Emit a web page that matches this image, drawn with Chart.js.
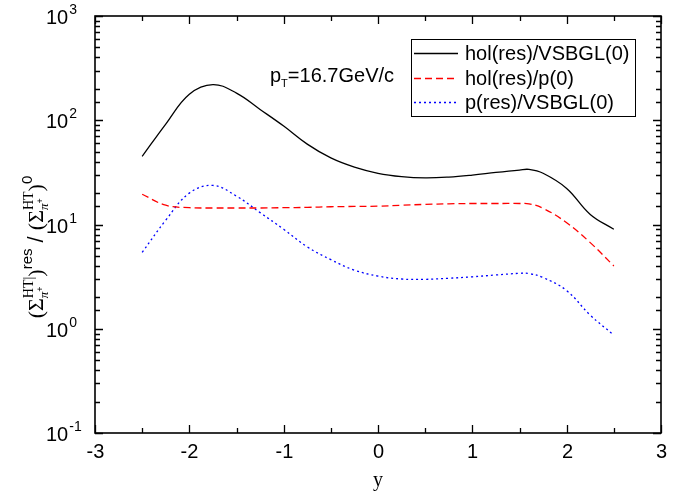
<!DOCTYPE html>
<html>
<head>
<meta charset="utf-8">
<script src="https://cdn.jsdelivr.net/npm/chart.js@4.4.1/dist/chart.umd.min.js"></script>
<style>
    html, body { margin: 0; padding: 0; background: #fff; }
    #wrap { width: 686px; height: 492px; }
</style>
</head>
<body>
<div id="wrap"><canvas id="chart"></canvas></div>
<script>
// rapidity y and the three ratios
const rapidity = [-2.5, -2.25, -2.0, -1.75, -1.5, -1.25, -1.0, -0.75, -0.5, -0.25, 0, 0.25, 0.5, 0.75, 1.0, 1.25, 1.5, 1.6, 1.75, 2.0, 2.25, 2.5];
const holVsbgl = [45, 92, 178, 220, 182, 127, 88, 59, 43.5, 35.5, 31, 28.8, 28, 28.5, 29.8, 31.6, 33.3, 33.8, 31, 22.2, 12.5, 9];
const holP = [19.5, 15.3, 14.5, 14.4, 14.4, 14.4, 14.5, 14.6, 14.8, 14.9, 15.0, 15.3, 15.6, 15.8, 15.9, 15.9, 15.9, 15.8, 14.3, 10.4, 6.7, 4.0];
const pVsbgl = [5.4, 11.0, 20.0, 23.7, 18.7, 13.0, 9.0, 6.1, 4.6, 3.65, 3.2, 3.0, 2.98, 3.05, 3.15, 3.28, 3.4, 3.38, 3.1, 2.32, 1.35, 0.87];

const seriesNames = ['hol(res)/VSBGL(0)', 'hol(res)/p(0)', 'p(res)/VSBGL(0)'];
const seriesColors = ['#000000', '#ff0000', '#0000ff'];
const seriesDash = [[], [7, 4], [2, 3]];

const SANS = '"Liberation Sans", Arial, sans-serif';
const SERIF = '"Liberation Serif", "Times New Roman", serif';

function toPoints(ys) {
    return rapidity.map((x, i) => ({ x: x, y: ys[i] }));
}

// rich text: list of columns, each column is a list of rows drawn from same x
function measureCols(ctx, cols) {
    let total = 0;
    cols.forEach(col => {
        let w = 0;
        col.forEach(row => {
            let rw = 0;
            row.forEach(p => { ctx.font = p.f; rw += ctx.measureText(p.t).width; });
            w = Math.max(w, rw);
        });
        col.w = w;
        total += w;
    });
    return total;
}
function drawCols(ctx, cols, x, y) {
    cols.forEach(col => {
        col.forEach(row => {
            let rx = x;
            row.forEach(p => {
                ctx.font = p.f;
                ctx.fillText(p.t, rx, y + (p.dy || 0));
                rx += ctx.measureText(p.t).width;
            });
        });
        x += col.w;
    });
}

const sigmaCols = (sup) => [
    [[{ t: '(', f: '22px ' + SERIF }]],
    [[{ t: 'Σ', f: '22px ' + SERIF }]],
    [[{ t: sup, f: '14px ' + SERIF, dy: -10 }],
     [{ t: 'π', f: 'italic 13px ' + SERIF, dy: 5 }, { t: '+', f: '9px ' + SANS, dy: 0 }]],
    [[{ t: ')', f: '22px ' + SERIF }]]
];
const yTitleCols = [].concat(
    sigmaCols('HT|'),
    [[[{ t: 'res', f: '15px ' + SANS, dy: -11 }]]],
    [[[{ t: ' / ', f: '22px ' + SANS }]]],
    sigmaCols('HT'),
    [[[{ t: '0', f: '15px ' + SANS, dy: -11 }]]]
);

const framePlugin = {
    id: 'frame',
    afterDraw(chart) {
        const ctx = chart.ctx;
        const a = chart.chartArea;
        const xs = chart.scales.x, ys = chart.scales.y;
        ctx.save();
        ctx.strokeStyle = '#000';
        ctx.fillStyle = '#000';
        ctx.lineWidth = 1.6;
        ctx.strokeRect(a.left, a.top, a.right - a.left, a.bottom - a.top);

        // x ticks, bottom and top, pointing inwards
        ctx.lineWidth = 1.3;
        ctx.textAlign = 'center';
        ctx.textBaseline = 'alphabetic';
        xs.ticks.forEach(t => {
            const px = Math.round(xs.getPixelForValue(t.value)) + 0.5;
            const major = Math.abs(t.value - Math.round(t.value)) < 1e-9;
            const len = major ? 8 : 5;
            ctx.beginPath();
            ctx.moveTo(px, a.bottom); ctx.lineTo(px, a.bottom - len);
            ctx.moveTo(px, a.top); ctx.lineTo(px, a.top + len);
            ctx.stroke();
            if (major) {
                ctx.font = '20px ' + SANS;
                ctx.fillText(String(Math.round(t.value)), px, a.bottom + 25);
            }
        });

        // y ticks, left and right
        ctx.textAlign = 'left';
        ys.ticks.forEach(t => {
            const lg = Math.log10(t.value);
            const major = Math.abs(lg - Math.round(lg)) < 1e-6;
            const py = Math.round(ys.getPixelForValue(t.value)) + 0.5;
            const len = major ? 8 : 5;
            ctx.beginPath();
            ctx.moveTo(a.left, py); ctx.lineTo(a.left + len, py);
            ctx.moveTo(a.right, py); ctx.lineTo(a.right - len, py);
            ctx.stroke();
            if (major) {
                ctx.font = '20px ' + SANS;
                ctx.fillText('10', 46, py + 7);
                const w10 = ctx.measureText('10').width;
                ctx.font = '14px ' + SANS;
                ctx.fillText(String(Math.round(lg)), 46 + w10 + 1, py - 3);
            }
        });

        // axis titles
        ctx.textAlign = 'center';
        ctx.font = '20px ' + SERIF;
        ctx.fillText('y', (a.left + a.right) / 2, 486);

        ctx.textAlign = 'left';
        const tw = measureCols(ctx, yTitleCols);
        ctx.save();
        ctx.translate(43, 247);
        ctx.rotate(-Math.PI / 2);
        drawCols(ctx, yTitleCols, -tw / 2, 0);
        ctx.restore();

        // pT label
        const pt = [
            [[{ t: 'p', f: '20px ' + SANS }]],
            [[{ t: 'T', f: '11px ' + SANS, dy: 5 }]],
            [[{ t: '=16.7GeV/c', f: '20px ' + SANS }]]
        ];
        measureCols(ctx, pt);
        drawCols(ctx, pt, 270, 82);

        // legend
        ctx.lineWidth = 1;
        ctx.strokeRect(411.5, 39.5, 224, 77);
        const rows = [53, 78, 102];
        seriesNames.forEach((name, i) => {
            ctx.save();
            ctx.strokeStyle = seriesColors[i];
            ctx.lineWidth = 1.3;
            ctx.setLineDash(seriesDash[i]);
            ctx.beginPath();
            ctx.moveTo(414, rows[i] + 0.5); ctx.lineTo(458, rows[i] + 0.5);
            ctx.stroke();
            ctx.restore();
            ctx.font = '20px ' + SANS;
            ctx.fillText(name, 465, rows[i] + 7);
        });
        ctx.restore();
    }
};

const datasets = [holVsbgl, holP, pVsbgl].map((ys, i) => ({
    label: seriesNames[i],
    data: toPoints(ys),
    borderColor: seriesColors[i],
    borderWidth: 1.3,
    borderDash: seriesDash[i],
    pointRadius: 0,
    fill: false,
    tension: 0.4
}));

new Chart(document.getElementById('chart'), {
    type: 'line',
    data: { datasets: datasets },
    options: {
        responsive: true,
        maintainAspectRatio: false,
        animation: false,
        devicePixelRatio: 1,
        layout: { padding: { left: 0, right: 25, top: 16, bottom: 0 } },
        plugins: { legend: { display: false }, tooltip: { enabled: false } },
        scales: {
            x: {
                type: 'linear', min: -3, max: 3,
                ticks: { stepSize: 0.5, display: false },
                grid: { display: false }, border: { display: false },
                afterFit(s) { s.height = 59; }
            },
            y: {
                type: 'logarithmic', min: 0.1, max: 1000,
                ticks: { display: false },
                grid: { display: false }, border: { display: false },
                afterFit(s) { s.width = 95; }
            }
        }
    },
    plugins: [framePlugin]
});
</script>
</body>
</html>
